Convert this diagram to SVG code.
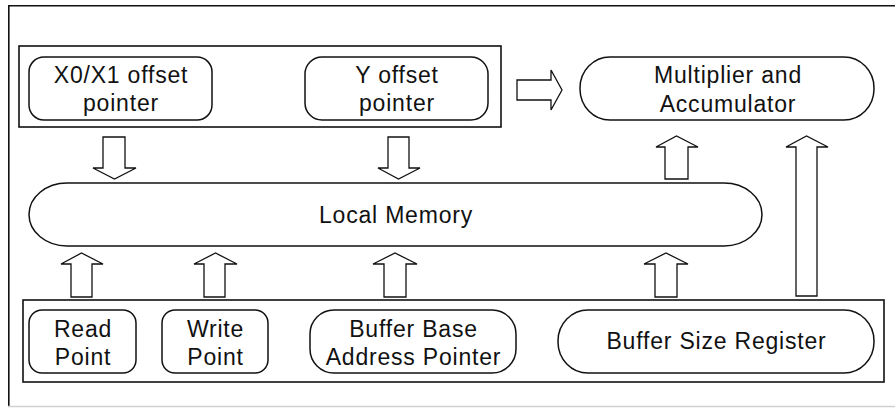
<svg xmlns="http://www.w3.org/2000/svg" width="895" height="408" viewBox="0 0 895 408">
<style>
.frame{fill:none;stroke:#111;stroke-width:1.6}
.node{fill:#fff;stroke:#111;stroke-width:1.5}
.arr{fill:#fff;stroke:#111;stroke-width:1.3;stroke-linejoin:miter}
text{font-family:"Liberation Sans",Arial,sans-serif;font-size:23px;letter-spacing:0.8px;fill:#111;text-anchor:middle}
</style>
<rect width="895" height="408" fill="#fff"/>
<g id="outer-frame">
<path d="M895 5.8 H8.8 V406.5" class="frame"/>
<line x1="8" y1="406.5" x2="895" y2="406.5" stroke="#d0d0d0" stroke-width="1.5"/>
</g>
<g id="pointer-group">
<rect x="19" y="46" width="482" height="81" class="frame"/>
</g>
<g id="x0x1-offset-pointer">
<rect x="29" y="57" width="183" height="63" rx="15" ry="15" class="node"/>
<text x="121" y="82.5">X0/X1 offset</text>
<text x="121" y="110.5">pointer</text>
</g>
<g id="y-offset-pointer">
<rect x="305" y="57" width="183" height="63" rx="17" ry="17" class="node"/>
<text x="397" y="82.5">Y offset</text>
<text x="397" y="110.5">pointer</text>
</g>
<g id="mac">
<rect x="580" y="57" width="294" height="63" rx="30" ry="31" class="node"/>
<text x="728" y="83">Multiplier and</text>
<text x="728" y="111.5">Accumulator</text>
</g>
<g id="local-memory">
<rect x="29" y="183" width="733" height="63" rx="38" ry="31.5" class="node"/>
<text x="396" y="223">Local Memory</text>
</g>
<g id="register-group">
<rect x="23" y="300" width="861" height="82" class="frame"/>
</g>
<g id="read-point">
<rect x="29" y="310" width="107" height="63" rx="13" ry="13" class="node"/>
<text x="83" y="336.5">Read</text>
<text x="83" y="365">Point</text>
</g>
<g id="write-point">
<rect x="162" y="310" width="106" height="63" rx="13" ry="13" class="node"/>
<text x="215.5" y="336.5">Write</text>
<text x="215.5" y="365">Point</text>
</g>
<g id="buffer-base">
<rect x="310" y="310" width="206" height="63" rx="24" ry="24" class="node"/>
<text x="413.5" y="336.5">Buffer Base</text>
<text x="413.5" y="365">Address Pointer</text>
</g>
<g id="buffer-size">
<rect x="558" y="310" width="316" height="63" rx="30" ry="31" class="node"/>
<text x="716.5" y="349">Buffer Size Register</text>
</g>
<g id="connectors">
<polygon class="arr" points="103,137 125,137 125,168 136,168 114.5,179 93,168 103,168"/>
<polygon class="arr" points="388,137 409,137 409,168 420,168 398.5,179 378,168 388,168"/>
<polygon class="arr" points="517,80 551,80 551,70 562,90 551,110 551,100 517,100"/>
<polygon class="arr" points="665,179 688,179 688,147 698,147 676.5,136 656,147 665,147"/>
<polygon class="arr" points="796,296 817,296 817,147 828,147 806.5,136 786,147 796,147"/>
<polygon class="arr" points="71,297 92,297 92,264 103,264 81.5,253 61,264 71,264"/>
<polygon class="arr" points="204,297 225,297 225,264 237,264 215.5,253 194,264 204,264"/>
<polygon class="arr" points="384,297 406,297 406,264 417,264 395,253 373,264 384,264"/>
<polygon class="arr" points="655,297 677,297 677,264 688,264 666,253 644,264 655,264"/>
</g>
</svg>
